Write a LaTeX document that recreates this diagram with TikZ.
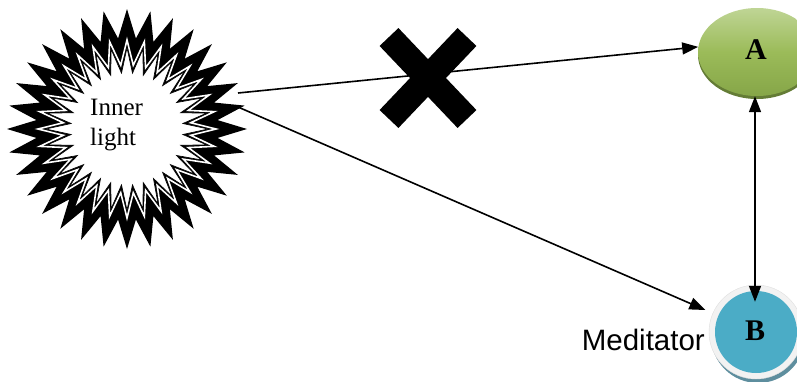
\documentclass[tikz,border=0pt]{standalone}
\usepackage{fontspec}
\setmainfont{Liberation Serif}
\newfontfamily\arialfont{Liberation Sans}
\usetikzlibrary{arrows.meta,shapes.geometric}
\definecolor{agreen}{HTML}{9BBB59}
\definecolor{agreenlt}{HTML}{BFD595}
\definecolor{agreendk}{HTML}{86A648}
\definecolor{bblue}{HTML}{4BACC6}
\definecolor{bshadow}{HTML}{5E8E9E}
\begin{document}
\begin{tikzpicture}[x=1pt,y=-1pt,
  conn/.style={line width=1.6pt,-{Triangle[length=16pt,width=12pt]}},
  dconn/.style={line width=1.6pt,{Triangle[length=16pt,width=12pt]}-{Triangle[length=16pt,width=12pt]}},
  anode/.style={ellipse,minimum width=118pt,minimum height=88pt,inner sep=0pt,
    top color=agreenlt,bottom color=agreendk,middle color=agreen},
  bnode/.style={circle,minimum size=82pt,inner sep=0pt,fill=bblue},
  lbl/.style={font=\fontsize{30}{30}\selectfont\bfseries}]
\useasboundingbox (0,0) rectangle (797,381);
% starburst
\begin{scope}[shift={(127,129)}]
  \fill[black] (90:120) \foreach \i in {0,...,31}{ -- ({90+\i*11.25}:120) -- ({95.625+\i*11.25}:91)} -- cycle;
  \draw[white,line width=1.6pt] (90:89) \foreach \i in {0,...,31}{ -- ({90+\i*11.25}:89) -- ({95.625+\i*11.25}:64)} -- cycle;
  \filldraw[fill=white,draw=black,line width=0.6pt] (90:81) \foreach \i in {0,...,31}{ -- ({90+\i*11.25}:81) -- ({95.625+\i*11.25}:56)} -- cycle;
\end{scope}
\node[anchor=base west,align=left,inner sep=0pt,font=\fontsize{25}{30}\selectfont] (inner) at (90,145) {Inner\\light};
\coordinate (s1) at (238,93);
\coordinate (s2) at (238,107);
% node A
\fill[agreendk!75!black] (757,55) ellipse [x radius=59pt,y radius=44pt];
\node[anode] (A) at (757,52) {};
\node[lbl] (Alabel) at (756,50) {A};
% node B
\fill[bshadow] (758,336) circle [radius=47pt];
\filldraw[fill=gray!10,draw=gray!25] (756,332) circle [radius=47pt];
\node[bnode] (B) at (756,332) {};
\node[lbl] (Blabel) at (755,331) {B};
\node[anchor=base east,inner sep=0pt,font=\arialfont\fontsize{29.5}{29.5}\selectfont] (med) at (705,350) {Meditator};
% connectors
\draw[conn] (s1) -- (A.175);
\draw[conn,shorten >=14pt] (s2) -- (B);
\draw[dconn,shorten >=-11pt] (A.south -| 755,0) -- (B.north -| 755,0);
% cross
\draw[line width=26pt] (389,37) -- (467,119);
\draw[line width=26pt] (389,119) -- (467,37);
\end{tikzpicture}
\end{document}
